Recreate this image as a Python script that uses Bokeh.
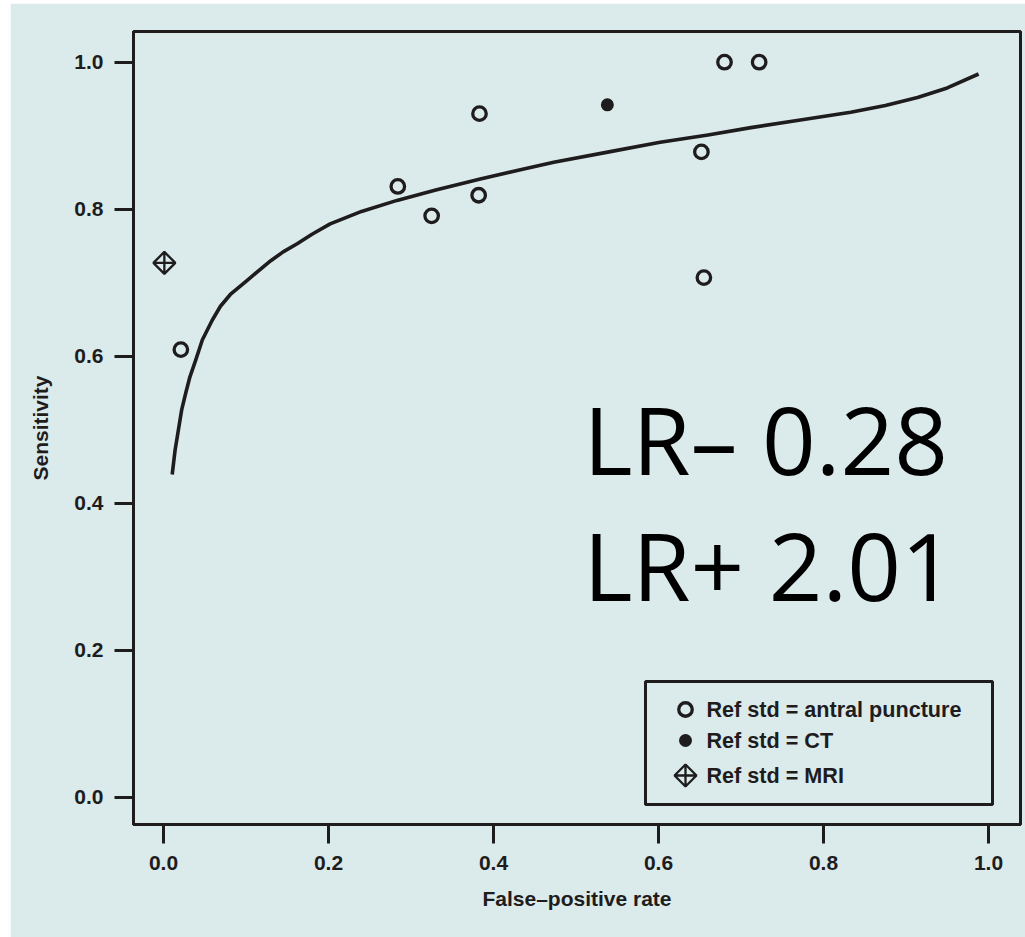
from math import pi

from bokeh.core.properties import value
from bokeh.embed import file_html
from bokeh.layouts import column, row
from bokeh.models import BoxAnnotation, FixedTicker, PrintfTickFormatter, Range1d, Spacer
from bokeh.plotting import figure
from bokeh.resources import INLINE

# Study estimates: false-positive rate vs sensitivity, grouped by reference standard
antral_fpr = [0.021, 0.284, 0.325, 0.383, 0.382, 0.652, 0.655, 0.680, 0.722]
antral_sens = [0.609, 0.831, 0.791, 0.930, 0.819, 0.878, 0.707, 1.000, 1.000]
ct_fpr = [0.538]
ct_sens = [0.942]
mri_fpr = [0.001]
mri_sens = [0.727]

# Summary ROC curve
sroc_fpr = [0.0105, 0.014, 0.0185, 0.022, 0.0267, 0.032, 0.0388, 0.047, 0.059, 0.069,
            0.081, 0.100, 0.130, 0.145, 0.162, 0.180, 0.202, 0.240, 0.283, 0.330,
            0.384, 0.430, 0.473, 0.540, 0.602, 0.660, 0.712, 0.770, 0.833, 0.875,
            0.914, 0.950, 0.988]
sroc_sens = [0.439, 0.472, 0.503, 0.527, 0.549, 0.572, 0.594, 0.622, 0.649, 0.668,
             0.684, 0.702, 0.730, 0.742, 0.753, 0.766, 0.780, 0.797, 0.812, 0.826,
             0.841, 0.853, 0.864, 0.878, 0.891, 0.901, 0.911, 0.921, 0.932, 0.941,
             0.952, 0.965, 0.984]

tick_values = [0.0, 0.2, 0.4, 0.6, 0.8, 1.0]
tick_labels = ["0.0", "0.2", "0.4", "0.6", "0.8", "1.0"]

legend_labels = ["Ref std = antral puncture", "Ref std = CT", "Ref std = MRI"]
lr_lines = ["LR\u2013 0.28", "LR+ 2.01"]

# ---- styling -------------------------------------------------------------
BG = "#dbeaea"
INK = "#1e1c1d"
FONT = "Liberation Sans"
BIG_FONT = "Open Sans"

FIG_W, FIG_H = 1015, 934
B_LEFT, B_RIGHT, B_TOP, B_BOTTOM = 123, 5, 28, 113
X0, X1 = -0.0364, 1.0388
Y0, Y1 = -0.0371, 1.0418

# page-pixel helpers (figure sits 10px from the left, 3px from the top)
FRAME_L = 10 + B_LEFT
FRAME_T = 3 + B_TOP
FRAME_W = FIG_W - B_LEFT - B_RIGHT
FRAME_H = FIG_H - B_TOP - B_BOTTOM


def px_x(px):
    return X0 + (px - FRAME_L) / FRAME_W * (X1 - X0)


def px_y(py):
    return Y1 - (py - FRAME_T) / FRAME_H * (Y1 - Y0)


p = figure(
    width=FIG_W, height=FIG_H,
    x_range=Range1d(X0, X1), y_range=Range1d(Y0, Y1),
    output_backend="svg", toolbar_location=None,
    min_border_left=B_LEFT, min_border_right=B_RIGHT,
    min_border_top=B_TOP, min_border_bottom=B_BOTTOM,
)
p.background_fill_color = BG
p.border_fill_color = BG
p.outline_line_color = INK
p.outline_line_width = 3
p.grid.visible = False

p.xaxis.axis_label = "False\u2013positive rate"
p.yaxis.axis_label = "Sensitivity"

for ax in (p.xaxis[0], p.yaxis[0]):
    ax.ticker = FixedTicker(ticks=tick_values)
    ax.formatter = PrintfTickFormatter(format="%.1f")
    ax.major_label_overrides = dict(zip(tick_values, tick_labels))
    ax.axis_line_color = INK
    ax.axis_line_width = 3
    ax.major_tick_line_color = INK
    ax.major_tick_line_width = 3
    ax.major_tick_out = 19
    ax.major_tick_in = 0
    ax.minor_tick_line_color = None
    ax.major_label_text_font = FONT
    ax.major_label_text_font_size = "21px"
    ax.major_label_text_font_style = "bold"
    ax.major_label_text_color = INK
    ax.axis_label_text_font = FONT
    ax.axis_label_text_font_size = "21px"
    ax.axis_label_text_font_style = "bold"
    ax.axis_label_text_color = INK

p.yaxis.major_label_standoff = 11
p.yaxis.axis_label_standoff = 19
p.xaxis.major_label_standoff = 12
p.xaxis.axis_label_standoff = 14

# SROC curve
p.line(sroc_fpr, sroc_sens, line_color=INK, line_width=3.6, line_join="round")

# study points
open_style = dict(marker="circle", size=13.5, fill_color=None, line_color=INK, line_width=3.3)
ct_style = dict(marker="circle", size=13, fill_color=INK, line_color=None)
mri_style = dict(marker="square_x", angle=pi / 4, size=15.5, fill_color=None,
                 line_color=INK, line_width=2.3)

p.scatter(antral_fpr, antral_sens, **open_style)
p.scatter(ct_fpr, ct_sens, **ct_style)
p.scatter(mri_fpr, mri_sens, **mri_style)

# likelihood-ratio annotation
p.text(x=[px_x(583), px_x(583)], y=[px_y(438), px_y(564)], text=lr_lines,
       text_font=value(BIG_FONT), text_font_size="94px", text_color="#000000",
       text_baseline="alphabetic", text_align="left")

# legend box with its swatches and labels
p.add_layout(BoxAnnotation(left=px_x(645), right=px_x(992), top=px_y(681), bottom=px_y(804),
                           fill_color=None, line_color=INK, line_alpha=1.0, line_width=3))
legend_rows_py = [709, 740, 775]
for style, py in zip((open_style, ct_style, mri_style), legend_rows_py):
    p.scatter([px_x(685)], [px_y(py)], **style)
p.text(x=[px_x(706)] * 3, y=[px_y(py) for py in legend_rows_py], text=legend_labels,
       text_font=value(FONT), text_font_size="21.6px", text_font_style="bold",
       text_color=INK, text_baseline="middle", text_align="left")

layout = column(Spacer(height=3), row(Spacer(width=10), p))
open("out.html", "w").write(file_html(layout, INLINE))
